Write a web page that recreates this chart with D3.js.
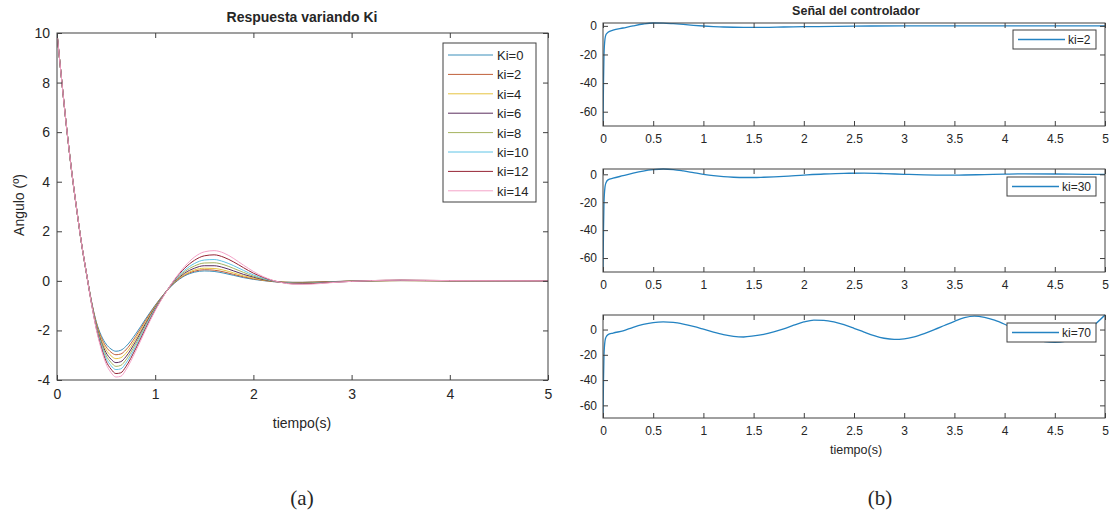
<!DOCTYPE html>
<html>
<head>
<meta charset="utf-8">
<script src="https://cdn.jsdelivr.net/npm/d3@7"></script>
<style>
  body { margin: 0; background: #fff; }
  svg text { font-family: "Liberation Sans", Arial, sans-serif; fill: #262626; }
  .ax path, .ax line { stroke: #404040; }
</style>
</head>
<body>
<script>
// ---- (a) Respuesta variando Ki ----
const tiempo = [0, 0.05, 0.1, 0.15, 0.2, 0.25, 0.3, 0.35, 0.4, 0.45, 0.5, 0.55, 0.6, 0.65, 0.7, 0.8, 0.9, 1.0,
  1.1, 1.2, 1.3, 1.4, 1.5, 1.6, 1.7, 1.8, 1.9, 2.0, 2.1, 2.2, 2.3, 2.4, 2.5, 2.6, 2.8, 3.0, 3.2, 3.5, 4.0, 5.0];

const kiLabels = ["Ki=0", "ki=2", "ki=4", "ki=6", "ki=8", "ki=10", "ki=12", "ki=14"];

const angKi0  = [10, 8.0, 6.1, 4.4, 2.9, 1.5, 0.3, -0.80, -1.65, -2.20, -2.55, -2.75, -2.84, -2.80, -2.65, -2.15, -1.55, -0.98,
  -0.48, -0.08, 0.20, 0.35, 0.40, 0.38, 0.31, 0.22, 0.13, 0.06, 0.01, -0.03, -0.05, -0.06, -0.06, -0.05, -0.03, -0.01, 0, 0.01, 0, 0];
const angKi2  = [10, 8.0, 6.1, 4.4, 2.9, 1.5, 0.3, -0.81, -1.69, -2.28, -2.66, -2.88, -2.98, -2.95, -2.79, -2.25, -1.61, -1.01,
  -0.48, -0.06, 0.23, 0.39, 0.45, 0.43, 0.36, 0.26, 0.16, 0.08, 0.02, -0.03, -0.05, -0.06, -0.06, -0.05, -0.03, -0.01, 0, 0.01, 0, 0];
const angKi4  = [10, 8.0, 6.1, 4.4, 2.9, 1.5, 0.3, -0.83, -1.73, -2.36, -2.78, -3.02, -3.14, -3.10, -2.93, -2.35, -1.68, -1.04,
  -0.49, -0.04, 0.26, 0.44, 0.51, 0.50, 0.43, 0.32, 0.20, 0.11, 0.03, -0.02, -0.05, -0.07, -0.07, -0.06, -0.04, -0.01, 0, 0.01, 0, 0];
const angKi6  = [10, 8.0, 6.1, 4.4, 2.9, 1.5, 0.3, -0.84, -1.78, -2.44, -2.90, -3.16, -3.30, -3.26, -3.07, -2.45, -1.74, -1.07,
  -0.49, -0.02, 0.31, 0.51, 0.61, 0.61, 0.53, 0.40, 0.26, 0.15, 0.05, -0.02, -0.06, -0.08, -0.08, -0.07, -0.04, -0.01, 0, 0.02, 0, 0];
const angKi8  = [10, 8.0, 6.1, 4.4, 2.9, 1.5, 0.3, -0.86, -1.82, -2.51, -3.01, -3.29, -3.45, -3.41, -3.20, -2.55, -1.81, -1.10,
  -0.50, 0.01, 0.37, 0.60, 0.72, 0.73, 0.65, 0.50, 0.34, 0.19, 0.08, -0.01, -0.06, -0.09, -0.09, -0.08, -0.05, -0.01, 0, 0.02, 0.01, 0];
const angKi10 = [10, 8.0, 6.1, 4.4, 2.9, 1.5, 0.3, -0.87, -1.86, -2.59, -3.12, -3.42, -3.58, -3.55, -3.33, -2.65, -1.87, -1.13,
  -0.50, 0.03, 0.43, 0.70, 0.84, 0.86, 0.77, 0.61, 0.42, 0.24, 0.10, 0.00, -0.07, -0.10, -0.11, -0.10, -0.05, -0.02, 0.01, 0.02, 0.01, 0];
const angKi12 = [10, 8.0, 6.1, 4.4, 2.9, 1.5, 0.3, -0.89, -1.91, -2.67, -3.24, -3.56, -3.74, -3.71, -3.47, -2.75, -1.94, -1.17,
  -0.51, 0.06, 0.51, 0.83, 1.01, 1.05, 0.95, 0.76, 0.53, 0.31, 0.14, 0.01, -0.07, -0.12, -0.12, -0.11, -0.06, -0.02, 0.01, 0.03, 0.01, 0];
const angKi14 = [10, 8.0, 6.1, 4.4, 2.9, 1.5, 0.3, -0.90, -1.95, -2.75, -3.35, -3.70, -3.88, -3.85, -3.60, -2.85, -2.00, -1.20,
  -0.52, 0.08, 0.58, 0.96, 1.17, 1.22, 1.12, 0.90, 0.63, 0.38, 0.17, 0.02, -0.08, -0.13, -0.14, -0.13, -0.07, -0.02, 0.01, 0.03, 0.01, 0];

const angSeries = [angKi0, angKi2, angKi4, angKi6, angKi8, angKi10, angKi12, angKi14];
const angColors = ["#3b8fba", "#c0603a", "#e6c440", "#5a2d5e", "#a5b35e", "#5fc4e6", "#962435", "#f4a3c8"];

const xTicksA = [0, 1, 2, 3, 4, 5];
const yTicksA = [-4, -2, 0, 2, 4, 6, 8, 10];

// ---- (b) Señal del controlador ----
const tiempoKi2 = [0, 0.005, 0.01, 0.02, 0.03, 0.05, 0.1, 0.2, 0.3, 0.4, 0.5, 0.6, 0.7, 0.8, 0.9, 1.0, 1.1, 1.2, 1.4, 1.6,
  1.8, 2.0, 2.5, 3.0, 3.5, 4.0, 4.5, 5.0];
const senalKi2 = [-70, -40, -20, -9, -6, -4.5, -3, -1.5, 0, 1.3, 2, 1.9, 1.5, 1, 0.4, -0.1, -0.5, -0.8, -1.0, -1.0,
  -0.8, -0.6, -0.2, 0, 0, 0, 0, 0];

const tiempoKi30 = [0, 0.005, 0.01, 0.02, 0.03, 0.05, 0.1, 0.2, 0.3, 0.4, 0.5, 0.6, 0.7, 0.8, 0.9, 1.0, 1.1, 1.2, 1.3, 1.4,
  1.5, 1.6, 1.8, 2.0, 2.2, 2.4, 2.6, 2.8, 3.0, 3.2, 3.4, 3.6, 3.8, 4.0, 4.2, 4.5, 4.8, 5.0];
const senalKi30 = [-70, -40, -20, -9, -6, -4, -2.8, -1, 0.8, 2.3, 3.3, 3.8, 3.4, 2.4, 1.2, 0, -1.0, -1.7, -2.1, -2.3,
  -2.3, -2.1, -1.5, -0.6, 0.2, 0.7, 0.8, 0.5, 0, -0.4, -0.6, -0.5, -0.2, 0.1, 0.3, 0.2, 0, -0.1];

const tiempoKi70 = [0, 0.005, 0.01, 0.02, 0.03, 0.05, 0.1, 0.2, 0.3, 0.4, 0.5, 0.6, 0.7, 0.8, 0.9, 1.0, 1.1, 1.2, 1.3, 1.4,
  1.5, 1.6, 1.7, 1.8, 1.9, 2.0, 2.1, 2.2, 2.3, 2.4, 2.5, 2.6, 2.7, 2.8, 2.9, 3.0, 3.1, 3.2, 3.3, 3.4,
  3.5, 3.6, 3.7, 3.8, 3.9, 4.0, 4.1, 4.2, 4.3, 4.4, 4.5, 4.6, 4.7, 4.8, 4.9, 5.0];
const senalKi70 = [-70, -40, -20, -9, -6, -4, -2.8, -1, 1.8, 4, 5.5, 6, 5.6, 4.3, 2.5, 0.3, -2, -4, -5.4, -5.9,
  -5.1, -3.8, -1.8, 0.6, 3.4, 6.0, 7.5, 7.3, 6.0, 3.8, 1.0, -2.0, -4.8, -6.9, -7.8, -7.4, -5.8, -3.2, -0.1, 3.2,
  6.5, 9.4, 10.6, 9.6, 7.4, 4.2, 0.5, -3.4, -6.9, -9.6, -10.2, -9.3, -6.6, -2.4, 4.0, 11.5];

const senalPanels = [
  { t: tiempoKi2, v: senalKi2, label: "ki=2" },
  { t: tiempoKi30, v: senalKi30, label: "ki=30" },
  { t: tiempoKi70, v: senalKi70, label: "ki=70" }
];
const xTicksB = [0, 0.5, 1, 1.5, 2, 2.5, 3, 3.5, 4, 4.5, 5];
const yTicksB = [-60, -40, -20, 0];
const senalColor = "#2483c2";

const w = 1110, h = 517;
const svg = d3.select("body").append("svg").attr("width", w).attr("height", h);

// MATLAB style box with inward ticks on all four sides
function boxAxes(x, y, xt, yt, fs, padX, padY) {
  const [x0, x1] = x.range();
  const [yb, yt0] = y.range();
  const g = svg.append("g").attr("class", "ax");
  const bottom = g.append("g").attr("transform", "translate(0," + yb + ")")
    .call(d3.axisBottom(x).tickValues(xt).tickSizeInner(-5).tickSizeOuter(0).tickPadding(padX).tickFormat(d => d));
  const top = g.append("g").attr("transform", "translate(0," + yt0 + ")")
    .call(d3.axisTop(x).tickValues(xt).tickSizeInner(-5).tickSizeOuter(0).tickFormat(""));
  const left = g.append("g").attr("transform", "translate(" + x0 + ",0)")
    .call(d3.axisLeft(y).tickValues(yt).tickSizeInner(-5).tickSizeOuter(0).tickPadding(padY).tickFormat(d => d));
  const right = g.append("g").attr("transform", "translate(" + x1 + ",0)")
    .call(d3.axisRight(y).tickValues(yt).tickSizeInner(-5).tickSizeOuter(0).tickFormat(""));
  [bottom, top, left, right].forEach(a => {
    a.select(".domain").remove();
    a.selectAll("text").style("font-size", fs + "px").attr("fill", "#262626")
      .style("font-family", "'Liberation Sans', Arial, sans-serif");
  });
  g.append("rect").attr("x", x0).attr("y", yt0).attr("width", x1 - x0).attr("height", yb - yt0)
    .attr("fill", "none").attr("stroke", "#404040").attr("stroke-width", 1);
}

// ---------- panel (a) ----------
const xA = d3.scaleLinear().domain([0, 5]).range([57, 548]);
const yA = d3.scaleLinear().domain([-4, 10]).range([380, 33]);

svg.append("defs").append("clipPath").attr("id", "clipA")
  .append("rect").attr("x", 57).attr("y", 33).attr("width", 491).attr("height", 347);

const lineA = d3.line().x((d, i) => xA(tiempo[i])).y(d => yA(d)).curve(d3.curveMonotoneX);

svg.append("g").attr("clip-path", "url(#clipA)")
  .selectAll("path").data(angSeries).enter().append("path")
  .attr("d", lineA).attr("fill", "none")
  .attr("stroke", (d, i) => angColors[i]).attr("stroke-width", 1);

boxAxes(xA, yA, xTicksA, yTicksA, 14, 9, 7);

svg.append("text").attr("x", 302).attr("y", 22).attr("text-anchor", "middle")
  .style("font-size", "14px").style("font-weight", "bold").text("Respuesta variando Ki");
svg.append("text").attr("x", 302).attr("y", 428).attr("text-anchor", "middle")
  .style("font-size", "14px").text("tiempo(s)");
svg.append("text").attr("transform", "translate(24,205) rotate(-90)").attr("text-anchor", "middle")
  .style("font-size", "14px").text("Angulo (º)");

// legend (a)
const legA = svg.append("g");
legA.append("rect").attr("x", 443).attr("y", 43).attr("width", 93).attr("height", 159)
  .attr("fill", "#fff").attr("stroke", "#404040").attr("stroke-width", 1);
kiLabels.forEach((lab, i) => {
  const yy = 55 + i * 19.4;
  legA.append("line").attr("x1", 448).attr("x2", 493).attr("y1", yy).attr("y2", yy)
    .attr("stroke", angColors[i]).attr("stroke-width", 1);
  legA.append("text").attr("x", 497).attr("y", yy + 5).style("font-size", "13px").text(lab);
});

// ---------- panel (b) ----------
const xB = d3.scaleLinear().domain([0, 5]).range([603, 1105]);
const panelTop = [23, 169, 315];
const panelH = 103;

senalPanels.forEach((p, k) => {
  const top = panelTop[k];
  const yB = d3.scaleLinear().domain([-70, d3.max(p.v)]).range([top + panelH, top]);

  svg.append("defs").append("clipPath").attr("id", "clipB" + k)
    .append("rect").attr("x", 603).attr("y", top - 1).attr("width", 502).attr("height", panelH + 2);

  const lineB = d3.line().x((d, i) => xB(p.t[i])).y(d => yB(d)).curve(d3.curveMonotoneX);
  svg.append("path").datum(p.v).attr("clip-path", "url(#clipB" + k + ")")
    .attr("d", lineB).attr("fill", "none").attr("stroke", senalColor).attr("stroke-width", 1.3);

  boxAxes(xB, yB, xTicksB, yTicksB, 12, 8, 6);

  const bx = k === 0 ? 1013 : 1007;
  const by = k === 0 ? 30 : top + 8;
  svg.append("rect").attr("x", bx).attr("y", by).attr("width", 1096 - bx).attr("height", 19)
    .attr("fill", "#fff").attr("stroke", "#404040").attr("stroke-width", 1);
  svg.append("line").attr("x1", bx + 5).attr("x2", bx + 52).attr("y1", by + 9.5).attr("y2", by + 9.5)
    .attr("stroke", senalColor).attr("stroke-width", 1.3);
  svg.append("text").attr("x", bx + 55).attr("y", by + 14).style("font-size", "12px").text(p.label);
});

svg.append("text").attr("x", 856).attr("y", 15).attr("text-anchor", "middle")
  .style("font-size", "12.5px").style("font-weight", "bold").text("Señal del controlador");
svg.append("text").attr("x", 856).attr("y", 454).attr("text-anchor", "middle")
  .style("font-size", "12.5px").text("tiempo(s)");

// captions
svg.append("text").attr("x", 302).attr("y", 505).attr("text-anchor", "middle")
  .style("font-family", "'Liberation Serif', 'Times New Roman', serif").style("font-size", "21px").text("(a)");
svg.append("text").attr("x", 880).attr("y", 505).attr("text-anchor", "middle")
  .style("font-family", "'Liberation Serif', 'Times New Roman', serif").style("font-size", "21px").text("(b)");
</script>
</body>
</html>
